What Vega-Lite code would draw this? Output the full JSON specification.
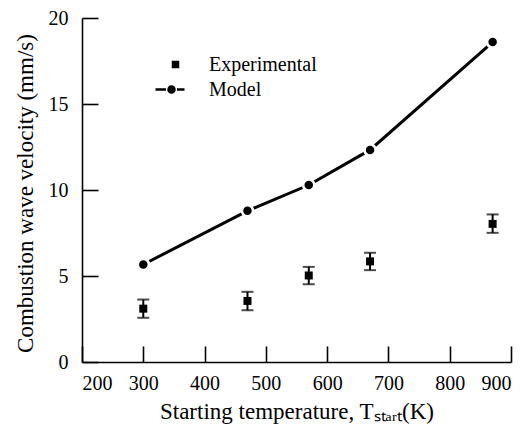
{
  "$schema": "https://vega.github.io/schema/vega-lite/v6.json",
  "width": 429,
  "height": 344,
  "autosize": {"type": "none"},
  "padding": {"left": 82, "top": 18, "right": 17, "bottom": 68},
  "background": "white",
  "config": {
    "view": {"stroke": null},
    "font": "Liberation Serif",
    "axis": {
      "grid": false,
      "domainColor": "black",
      "domainWidth": 1.6,
      "tickColor": "black",
      "tickWidth": 1.6,
      "tickSize": -16,
      "labelFont": "Liberation Serif",
      "labelFontSize": 20,
      "labelColor": "black",
      "titleFont": "Liberation Serif",
      "titleFontSize": 23,
      "titleFontWeight": "normal",
      "titleColor": "black"
    }
  },
  "datasets": {
    "model": [
      {"T": 300, "v": 5.67},
      {"T": 470, "v": 8.79},
      {"T": 570, "v": 10.29},
      {"T": 670, "v": 12.33},
      {"T": 870, "v": 18.6}
    ],
    "experimental": [
      {"T": 300, "v": 3.1, "lo": 2.57, "hi": 3.63},
      {"T": 470, "v": 3.55, "lo": 3.01, "hi": 4.08},
      {"T": 570, "v": 5.03, "lo": 4.52, "hi": 5.53},
      {"T": 670, "v": 5.85, "lo": 5.34, "hi": 6.35},
      {"T": 870, "v": 8.03, "lo": 7.51, "hi": 8.58}
    ],
    "legend": [
      {"series": "Experimental"},
      {"series": "Model"}
    ]
  },
  "layer": [
    {
      "data": {"name": "model"},
      "mark": {"type": "line", "color": "black", "strokeWidth": 3},
      "encoding": {
        "x": {
          "field": "T", "type": "quantitative",
          "scale": {"domain": [200, 900], "nice": false, "zero": false},
          "axis": {
            "values": [200, 300, 400, 500, 600, 700, 800, 900],
            "labelPadding": 27,
            "title": "Starting temperature, Tₛₜₐᵣₜ(K)",
            "titlePadding": 7
          }
        },
        "y": {
          "field": "v", "type": "quantitative",
          "scale": {"domain": [0, 20], "nice": false},
          "axis": {
            "values": [0, 5, 10, 15, 20],
            "labelPadding": 30,
            "title": "Combustion wave velocity (mm/s)",
            "titleY": 175,
            "titlePadding": 11
          }
        }
      }
    },
    {
      "data": {"name": "model"},
      "mark": {"type": "point", "filled": true, "color": "white", "opacity": 1, "size": 190},
      "encoding": {
        "x": {"field": "T", "type": "quantitative"},
        "y": {"field": "v", "type": "quantitative"}
      }
    },
    {
      "data": {"name": "model"},
      "mark": {"type": "point", "filled": true, "color": "black", "opacity": 1, "size": 72},
      "encoding": {
        "x": {"field": "T", "type": "quantitative"},
        "y": {"field": "v", "type": "quantitative"}
      }
    },
    {
      "data": {"name": "experimental"},
      "mark": {"type": "errorbar", "color": "black", "thickness": 2, "ticks": {"size": 12, "thickness": 2, "color": "black"}},
      "encoding": {
        "x": {"field": "T", "type": "quantitative"},
        "y": {"field": "lo", "type": "quantitative", "title": "Combustion wave velocity (mm/s)"},
        "y2": {"field": "hi"}
      }
    },
    {
      "data": {"name": "experimental"},
      "mark": {"type": "point", "shape": "square", "filled": true, "color": "black", "opacity": 1, "size": 64},
      "encoding": {
        "x": {"field": "T", "type": "quantitative"},
        "y": {"field": "v", "type": "quantitative"}
      }
    },
    {
      "data": {"name": "legend"},
      "mark": {"type": "point", "filled": false, "color": "black", "strokeWidth": 2.5, "opacity": 1, "size": 400},
      "encoding": {
        "x": {"field": "T", "type": "quantitative"},
        "y": {"field": "v", "type": "quantitative"},
        "shape": {
          "field": "series", "type": "nominal",
          "scale": {
            "domain": ["Experimental", "Model"],
            "range": [
              "M0.3,-0.1H0.5V0.1H0.3ZM0.15,-0.25H0.65V0.25H0.15Z",
              "M-1.6,0H-0.55M0.55,0H1.3M-0.1,0A0.1,0.1 0 1,0 0.1,0A0.1,0.1 0 1,0 -0.1,0ZM-0.3,0A0.3,0.3 0 1,0 0.3,0A0.3,0.3 0 1,0 -0.3,0Z"
            ]
          },
          "legend": {
            "title": null,
            "orient": "none",
            "legendX": 78,
            "legendY": 35,
            "padding": 0,
            "rowPadding": 3,
            "symbolSize": 400,
            "symbolStrokeColor": "black",
            "symbolStrokeWidth": 2.5,
            "symbolOpacity": 1,
            "labelOffset": 26,
            "labelFont": "Liberation Serif",
            "labelFontSize": 20,
            "labelColor": "black"
          }
        }
      }
    }
  ]
}
